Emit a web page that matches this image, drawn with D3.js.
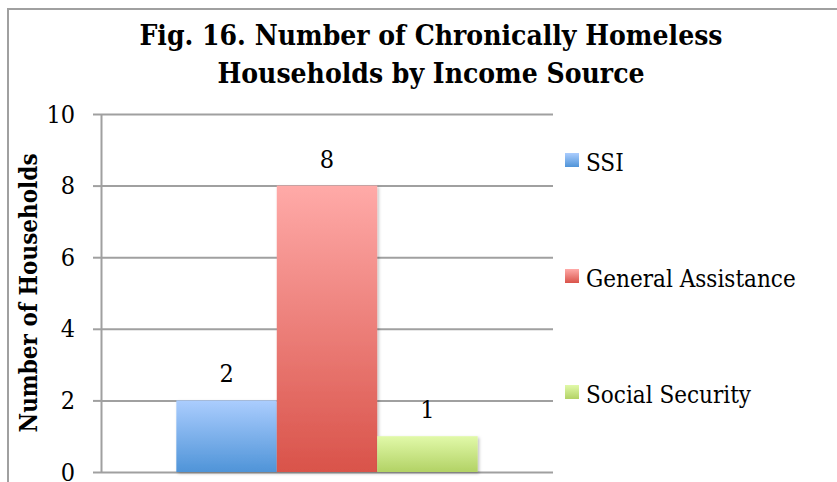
<html>
<head>
<meta charset="utf-8">
<script src="https://cdn.jsdelivr.net/npm/d3@7"></script>
<style>
  body { margin: 0; background: #fff; }
  text { font-family: "DejaVu Serif", serif; font-stretch: condensed; fill: #000; }
</style>
</head>
<body>
<script>

const titleLines = ["Fig. 16. Number of Chronically Homeless", "Households by Income Source"];
const yTitle = "Number of Households";
const categories = [""];
const series = ["SSI", "General Assistance", "Social Security"];
const values = [2, 8, 1];
const yTicks = [0, 2, 4, 6, 8, 10];
const gradTop = ["#abcdfe", "#ffaaa8", "#e1f9a9"];
const gradBottom = ["#4f94d8", "#d9534a", "#b2d265"];

const W = 837, H = 482;
const margin = {top: 114, left: 101, right: 284, bottom: 10};
const width = W - margin.left - margin.right;
const height = H - margin.top - margin.bottom;

const svg = d3.select('body').append('svg')
    .attr('width', W)
    .attr('height', H);

const defs = svg.append('defs');
series.forEach(function(s, i) {
    const g = defs.append('linearGradient')
        .attr('id', 'grad' + i)
        .attr('x1', 0).attr('y1', 0).attr('x2', 0).attr('y2', 1);
    g.append('stop').attr('offset', '0%').attr('stop-color', gradTop[i]);
    g.append('stop').attr('offset', '100%').attr('stop-color', gradBottom[i]);
});
const shadow = defs.append('filter').attr('id', 'shadow')
    .attr('x', '-10%').attr('y', '-10%').attr('width', '130%').attr('height', '130%');
shadow.append('feDropShadow')
    .attr('dx', 1.5).attr('dy', 1.5).attr('stdDeviation', 1.5)
    .attr('flood-color', '#000').attr('flood-opacity', 0.25);

// outer frame (only left and top visible)
svg.append('path')
    .attr('d', `M8,${H + 5} V9 H${W + 5}`)
    .attr('fill', 'none')
    .attr('stroke', '#a0a0a0')
    .attr('stroke-width', 2);

// title
svg.append('text')
    .attr('x', 431)
    .attr('text-anchor', 'middle')
    .style('font-weight', 'bold')
    .style('font-size', '28px')
    .selectAll('tspan')
    .data(titleLines)
    .enter()
    .append('tspan')
    .attr('x', 431)
    .attr('y', (d, i) => 45 + i * 38)
    .text(d => d);

const chart = svg.append('g')
    .attr('transform', `translate(${margin.left}, ${margin.top})`);

const y = d3.scaleLinear()
    .domain([0, 10])
    .range([height, 0]);

const x0 = d3.scaleBand()
    .domain(categories)
    .range([0, width])
    .paddingInner(0)
    .paddingOuter(0.25);

const x1 = d3.scaleBand()
    .domain(series)
    .range([0, x0.bandwidth()]);

// gridlines
chart.append('g')
    .call(d3.axisLeft(y).tickValues(yTicks).tickSize(-width).tickFormat(''))
    .call(g => g.select('.domain').remove())
    .call(g => g.selectAll('line').attr('stroke', '#a0a0a0').attr('stroke-width', 2));

// y axis
chart.append('g')
    .call(d3.axisLeft(y).tickValues(yTicks).tickSize(8).tickPadding(18).tickSizeOuter(0))
    .call(g => g.select('.domain').attr('stroke', '#a0a0a0').attr('stroke-width', 2))
    .call(g => g.selectAll('.tick line').attr('stroke', '#a0a0a0').attr('stroke-width', 2))
    .call(g => g.selectAll('text').style('font-size', '25px').attr('font-family', null));

// bars
const group = chart.selectAll('.cat')
    .data(categories)
    .enter()
    .append('g')
    .attr('transform', d => `translate(${x0(d)}, 0)`);

group.selectAll('rect')
    .data(series.map((s, i) => ({s: s, v: values[i], i: i})))
    .enter()
    .append('rect')
    .attr('x', d => x1(d.s))
    .attr('y', d => y(d.v))
    .attr('width', x1.bandwidth())
    .attr('height', d => height - y(d.v))
    .attr('fill', d => `url(#grad${d.i})`)
    .attr('filter', 'url(#shadow)');

group.selectAll('.lbl')
    .data(series.map((s, i) => ({s: s, v: values[i]})))
    .enter()
    .append('text')
    .attr('class', 'lbl')
    .attr('x', d => x1(d.s) + x1.bandwidth() / 2)
    .attr('y', d => y(d.v) - 18)
    .attr('text-anchor', 'middle')
    .style('font-size', '25px')
    .text(d => d.v);

// y title
svg.append('text')
    .attr('transform', 'translate(37, 293) rotate(-90)')
    .attr('text-anchor', 'middle')
    .style('font-weight', 'bold')
    .style('font-size', '24px')
    .text(yTitle);

// legend
const legend = svg.append('g')
    .attr('transform', 'translate(565, 153)');

const item = legend.selectAll('g')
    .data(series)
    .enter()
    .append('g')
    .attr('transform', (d, i) => `translate(0, ${i * 116})`);

item.append('rect')
    .attr('width', 14)
    .attr('height', 14)
    .attr('fill', (d, i) => `url(#grad${i})`);

item.append('text')
    .attr('x', 21)
    .attr('y', 18)
    .style('font-size', '24px')
    .text(d => d);

</script>
</body>
</html>
